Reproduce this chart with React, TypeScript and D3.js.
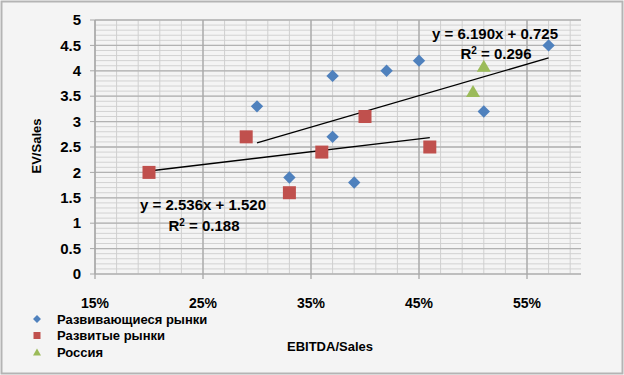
import * as d3 from "d3";

// EBITDA/Sales (%) и EV/Sales
const emergingX = [30, 33, 37, 37, 39, 42, 45, 51, 57];
const emergingY = [3.3, 1.9, 3.9, 2.7, 1.8, 4.0, 4.2, 3.2, 4.5];
const developedX = [20, 29, 33, 36, 40, 46];
const developedY = [2.0, 2.7, 1.6, 2.4, 3.1, 2.5];
const russiaX = [50, 51];
const russiaY = [3.6, 4.1];

const seriesNames = ["Развивающиеся рынки", "Развитые рынки", "Россия"];
const xTicks = [15, 25, 35, 45, 55];
const yTicks = [0, 0.5, 1, 1.5, 2, 2.5, 3, 3.5, 4, 4.5, 5];

// линии тренда: y = a*x + b
const emergingTrend = { a: 6.19, b: 0.725, r2: 0.296 };
const developedTrend = { a: 2.536, b: 1.52, r2: 0.188 };

const W = 624;
const H = 375;
const font = "'Liberation Sans', Arial, sans-serif";

const tri = (w: number, h: number) => `M0,${-h / 2}L${w / 2},${h / 2}L${-w / 2},${h / 2}Z`;

export default function App() {
  const x = d3.scaleLinear().domain([15, 60]).range([95, 581]);
  const y = d3.scaleLinear().domain([0, 5]).range([274, 20]);

  const minorX = d3.range(15, 60.01, 2);
  const minorY = d3.range(0, 5.001, 0.1);

  const trendPath = (t: { a: number; b: number }, xs: number[]) => {
    const [lo, hi] = d3.extent(xs) as [number, number];
    return d3.line<number>()
      .x((d) => x(d))
      .y((d) => y(t.a * (d / 100) + t.b))([lo, hi]);
  };

  const diamond = d3.symbol().type(d3.symbolDiamond2).size(98)();

  return (
    <svg
      width={W}
      height={H}
      style={{ position: "absolute", left: 0, top: 0 }}
      fontFamily={font}
      fontWeight="bold"
    >
      <rect x={1.5} y={1.5} width={W - 3} height={H - 3} fill="#f4f4f4" stroke="#b4b4b4" strokeWidth={2} />

      {/* сетка */}
      {minorY.map((v, i) => (
        <line key={"my" + i} x1={x(15)} x2={x(60)} y1={y(v)} y2={y(v)} stroke="#d2d2d2" strokeWidth={1} />
      ))}
      {minorX.map((v, i) => (
        <line key={"mx" + i} x1={x(v)} x2={x(v)} y1={y(0)} y2={y(5)} stroke="#cfcfcf" strokeWidth={1} />
      ))}
      {yTicks.map((v) => (
        <line key={"gy" + v} x1={x(15)} x2={x(60)} y1={y(v)} y2={y(v)} stroke="#b2b2b2" strokeWidth={1.3} />
      ))}
      {xTicks.map((v) => (
        <line key={"gx" + v} x1={x(v)} x2={x(v)} y1={y(0) + 5} y2={y(5)} stroke="#a8a8a8" strokeWidth={1.3} />
      ))}
      {yTicks.map((v) => (
        <line key={"ty" + v} x1={x(15) - 5} x2={x(15)} y1={y(v)} y2={y(v)} stroke="#a8a8a8" />
      ))}
      <line x1={x(15)} x2={x(15)} y1={y(0)} y2={y(5)} stroke="#a8a8a8" />

      {/* подписи осей */}
      {yTicks.map((v) => (
        <text key={"ly" + v} x={81} y={y(v)} dy="0.35em" textAnchor="end" fontSize={15}>
          {v}
        </text>
      ))}
      {xTicks.map((v) => (
        <text key={"lx" + v} x={x(v)} y={303} dy="0.35em" textAnchor="middle" fontSize={14}>
          {v}%
        </text>
      ))}
      <text transform={`translate(36,146) rotate(-90)`} textAnchor="middle" dy="0.35em" fontSize={13}>
        EV/Sales
      </text>
      <text x={330} y={346} textAnchor="middle" dy="0.35em" fontSize={13}>
        EBITDA/Sales
      </text>

      {/* линии тренда */}
      <path d={trendPath(emergingTrend, emergingX) || ""} stroke="#000" strokeWidth={1.3} fill="none" />
      <path d={trendPath(developedTrend, developedX) || ""} stroke="#000" strokeWidth={1.3} fill="none" />

      {/* точки */}
      {emergingX.map((v, i) => (
        <path key={"e" + i} d={diamond || ""} transform={`translate(${x(v)},${y(emergingY[i])})`} fill="#4f81bd" />
      ))}
      {developedX.map((v, i) => (
        <rect key={"d" + i} x={x(v) - 6.5} y={y(developedY[i]) - 6.5} width={13} height={13} fill="#c0504d" />
      ))}
      {russiaX.map((v, i) => (
        <path key={"r" + i} d={tri(14, 12)} transform={`translate(${x(v)},${y(russiaY[i])})`} fill="#9bbb59" />
      ))}

      {/* уравнения */}
      <text x={495} y={34} dy="0.35em" textAnchor="middle" fontSize={15}>
        y = {emergingTrend.a.toFixed(3)}x + {emergingTrend.b.toFixed(3)}
      </text>
      <text x={496} y={54} dy="0.35em" textAnchor="middle" fontSize={15}>
        R<tspan dy="-5" fontSize={10}>2</tspan><tspan dy="5"> = {emergingTrend.r2.toFixed(3)}</tspan>
      </text>
      <text x={203} y={205} dy="0.35em" textAnchor="middle" fontSize={15}>
        y = {developedTrend.a.toFixed(3)}x + {developedTrend.b.toFixed(3)}
      </text>
      <text x={204} y={226} dy="0.35em" textAnchor="middle" fontSize={15}>
        R<tspan dy="-5" fontSize={10}>2</tspan><tspan dy="5"> = {developedTrend.r2.toFixed(3)}</tspan>
      </text>

      {/* легенда */}
      {seriesNames.map((name, i) => {
        const cy = 319 + i * 16.5;
        return (
          <g key={name}>
            {i === 0 && <path d={d3.symbol().type(d3.symbolDiamond2).size(40)() || ""} transform={`translate(37,${cy})`} fill="#4f81bd" />}
            {i === 1 && <rect x={33.5} y={cy - 3.5} width={7} height={7} fill="#c0504d" />}
            {i === 2 && <path d={tri(8, 7)} transform={`translate(37,${cy})`} fill="#9bbb59" />}
            <text x={57} y={cy} dy="0.35em" fontSize={13}>
              {name}
            </text>
          </g>
        );
      })}
    </svg>
  );
}
